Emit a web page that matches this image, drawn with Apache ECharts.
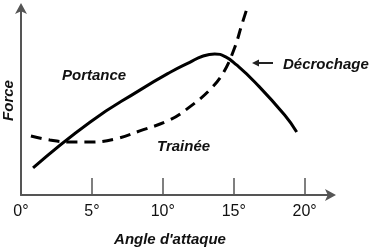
<!DOCTYPE html>
<html>
<head>
<meta charset="utf-8">
<script src="https://cdn.jsdelivr.net/npm/echarts@6/dist/echarts.min.js"></script>
<style>
  html, body { margin: 0; padding: 0; background: #fff; }
</style>
</head>
<body>
<div id="chart" style="width:376px;height:251px"></div>
<script>
// angle d'attaque (deg) / force (unités arbitraires)
var portanceAngle = [0.85, 4.86, 8.38, 10.49, 11.9, 12.8, 13.66, 14.4, 15.2, 16.48, 18.59, 19.44];
var portanceForce = [14.3, 38.5, 55.5, 64.8, 70.2, 73.4, 74.6, 73.2, 68.8, 59.8, 42.3, 33.3];

var traineeAngle = [0.7, 2.04, 3.45, 4.86, 6.62, 8.38, 10.49, 11.9, 13.31, 14.3, 15.07, 15.56, 15.99];
var traineeForce = [31.2, 29.1, 28.0, 28.0, 29.6, 33.9, 39.7, 46.6, 55.6, 65.1, 78.0, 89.9, 100];

var tickAngles = [5, 10, 15, 20];
var labelAngles = [0, 5, 10, 15, 20];

function pairs(xs, ys) {
  return xs.map(function (x, i) { return [x, ys[i]]; });
}

var myChart = echarts.init(document.getElementById('chart'));

var font = 'Liberation Sans';
var option = {
  animation: false,
  grid: { left: 21, right: 43, top: 6, bottom: 56, outerBoundsMode: 'none' },
  xAxis: {
    type: 'value',
    min: 0,
    max: 22,
    splitLine: { show: false },
    axisLine: {
      lineStyle: { color: '#555', width: 2 },
      symbol: ['none', 'arrow'],
      symbolSize: [9, 11],
      symbolOffset: [0, 3]
    },
    axisTick: {
      customValues: tickAngles,
      inside: true,
      length: 17,
      lineStyle: { color: '#555', width: 1.5 }
    },
    axisLabel: {
      customValues: labelAngles,
      formatter: function (v) { return v + '°'; },
      color: '#111',
      fontFamily: font,
      fontSize: 16,
      margin: 9
    },
    name: "Angle d'attaque",
    nameLocation: 'middle',
    nameGap: 37,
    nameTextStyle: {
      color: '#111',
      fontFamily: font,
      fontSize: 15,
      fontStyle: 'italic',
      fontWeight: 'bold',
      padding: [0, 14, 0, 0]
    }
  },
  yAxis: {
    type: 'value',
    min: 0,
    max: 100,
    splitLine: { show: false },
    axisTick: { show: false },
    axisLabel: { show: false },
    axisLine: {
      lineStyle: { color: '#555', width: 2 },
      symbol: ['none', 'arrow'],
      symbolSize: [9, 11],
      symbolOffset: [0, 3]
    },
    name: 'Force',
    nameLocation: 'middle',
    nameGap: 5,
    nameRotate: 90,
    nameTextStyle: {
      color: '#111',
      fontFamily: font,
      fontSize: 15,
      fontStyle: 'italic',
      fontWeight: 'bold'
    }
  },
  graphic: [
    {
      type: 'text', left: 62, top: 68,
      style: { text: 'Portance', font: 'italic bold 15px "Liberation Sans"', fill: '#111' }
    },
    {
      type: 'text', left: 157, top: 139,
      style: { text: 'Trainée', font: 'italic bold 15px "Liberation Sans"', fill: '#111' }
    },
    {
      type: 'text', left: 283, top: 57,
      style: { text: 'Décrochage', font: 'italic bold 15px "Liberation Sans"', fill: '#111' }
    },
    {
      type: 'line',
      shape: { x1: 258, y1: 63, x2: 273, y2: 63 },
      style: { stroke: '#222', lineWidth: 2 }
    },
    {
      type: 'polygon',
      shape: { points: [[252, 63], [259, 59.5], [259, 66.5]] },
      style: { fill: '#222' }
    }
  ],
  series: [
    {
      name: 'Portance',
      type: 'line',
      smooth: 0.5,
      symbol: 'none',
      data: pairs(portanceAngle, portanceForce),
      lineStyle: { color: '#000', width: 3 }
    },
    {
      name: 'Trainée',
      type: 'line',
      smooth: 0.4,
      symbol: 'none',
      data: pairs(traineeAngle, traineeForce),
      lineStyle: { color: '#000', width: 3, type: [11, 7] }
    }
  ]
};

myChart.setOption(option);
</script>
</body>
</html>
